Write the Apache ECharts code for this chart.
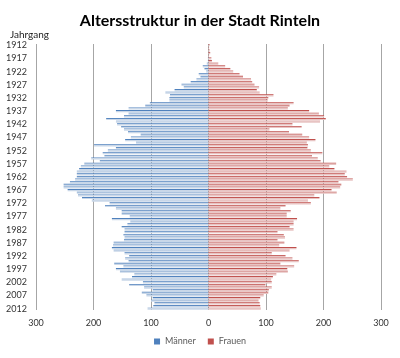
<!DOCTYPE html>
<html>
<head>
<meta charset="utf-8">
<script src="https://cdn.jsdelivr.net/npm/echarts@6/dist/echarts.min.js"></script>
<style>
html,body{margin:0;padding:0;background:#fff;}
#chart{width:400px;height:358px;}
</style>
</head>
<body>
<div id="chart"></div>
<script>
// Birth years (Jahrgang) 1912 .. 2012
const years = [];
for (let y = 1912; y <= 2012; y++) years.push(String(y));

// Men (Männer) per birth year, 1912..2012
const maenner = [
  0, 0, 0, 0, 0, 1, 1, 3, 10, 7,
  4, 17, 14, 21, 31, 47, 43, 59, 75, 67,
  68, 68, 102, 110, 139, 161, 139, 147, 178, 161,
  159, 152, 147, 140, 118, 135, 145, 126, 199, 161,
  175, 184, 181, 204, 189, 216, 222, 225, 229, 229,
  229, 232, 241, 252, 252, 245, 229, 227, 220, 203,
  172, 180, 161, 151, 151, 137, 168, 136, 141, 151,
  146, 146, 148, 146, 147, 165, 166, 168, 165, 146,
  138, 145, 139, 164, 148, 161, 154, 129, 133, 151,
  114, 138, 112, 97, 116, 108, 97, 100, 94, 96,
  106
];

// Women (Frauen) per birth year, 1912..2012
const frauen = [
  2, 1, 2, 3, 1, 5, 6, 17, 29, 38,
  43, 54, 60, 74, 76, 80, 88, 84, 89, 113,
  104, 103, 148, 141, 138, 175, 192, 201, 204, 194,
  146, 162, 106, 140, 163, 175, 186, 171, 173, 172,
  178, 198, 180, 190, 195, 222, 210, 219, 240, 237,
  241, 251, 226, 231, 229, 214, 223, 184, 193, 173,
  178, 134, 125, 143, 136, 136, 154, 148, 148, 141,
  148, 120, 131, 133, 120, 132, 123, 153, 141, 110,
  134, 146, 157, 125, 149, 137, 138, 118, 112, 109,
  110, 99, 110, 105, 104, 96, 90, 87, 89, 90,
  91
];

const xTicks = [-300, -200, -100, 0, 100, 200, 300];

const chart = echarts.init(document.getElementById('chart'), null, {renderer: 'canvas'});

function grad(dark, light) {
  return new echarts.graphic.LinearGradient(0, 0, 0, 1, [
    {offset: 0, color: dark},
    {offset: 0.22, color: dark},
    {offset: 0.4, color: light},
    {offset: 1, color: light}
  ]);
}

const font = 'Lato, "Open Sans", sans-serif';

chart.setOption({
  animation: false,
  title: [
    {
      text: 'Altersstruktur in der Stadt Rinteln',
      left: 'center',
      top: 8,
      textStyle: {fontSize: 16, fontWeight: 'bold', color: '#000', fontFamily: font}
    },
    {
      text: 'Jahrgang',
      left: 5,
      top: 25,
      textStyle: {fontSize: 10, fontWeight: 'normal', color: '#222', fontFamily: font}
    }
  ],
  legend: {
    bottom: 7,
    left: 'center',
    itemWidth: 6,
    itemHeight: 6,
    itemGap: 12,
    icon: 'rect',
    textStyle: {fontSize: 9, color: '#595959', fontFamily: font},
    data: [
      {name: 'Männer', itemStyle: {color: '#4F81BD'}},
      {name: 'Frauen', itemStyle: {color: '#C0504D'}}
    ]
  },
  grid: {left: 36, right: 19, top: 44, bottom: 48, containLabel: false},
  xAxis: {
    type: 'value',
    min: xTicks[0],
    max: xTicks[xTicks.length - 1],
    interval: 100,
    axisLine: {show: false},
    axisTick: {show: false},
    splitLine: {show: true, lineStyle: {color: '#a6a6a6', width: 1}},
    axisLabel: {
      formatter: v => String(Math.abs(v)),
      fontSize: 9,
      color: '#333',
      fontFamily: font,
      margin: 9
    }
  },
  yAxis: {
    type: 'category',
    inverse: true,
    data: years,
    axisLine: {show: false},
    axisTick: {show: false},
    axisLabel: {interval: 4, fontSize: 9, color: '#333', fontFamily: font, margin: 9}
  },
  series: [
    {
      name: 'Männer',
      type: 'bar',
      data: maenner.map(v => -v),
      barGap: '-100%',
      barCategoryGap: '20%',
      itemStyle: {color: grad('#4F81BD', '#C9D7E8')}
    },
    {
      name: 'Frauen',
      type: 'bar',
      data: frauen,
      barGap: '-100%',
      barCategoryGap: '20%',
      itemStyle: {color: grad('#C0504D', '#E8C4C3')}
    }
  ]
});
</script>
</body>
</html>
